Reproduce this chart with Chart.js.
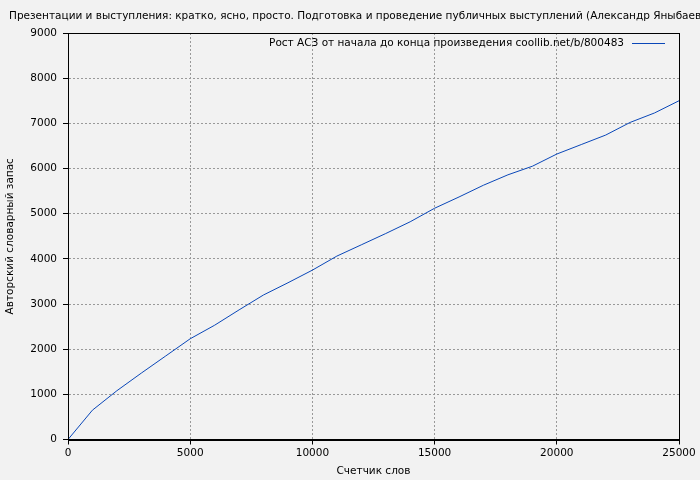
<!DOCTYPE html>
<html>
<head>
<meta charset="utf-8">
<script src="https://cdn.jsdelivr.net/npm/chart.js@4/dist/chart.umd.min.js"></script>
<style>
  html, body { margin: 0; padding: 0; background: #f2f2f2; }
  #wrap { width: 700px; height: 480px; }
</style>
</head>
<body>
<div id="wrap"><canvas id="myChart" width="700" height="480"></canvas></div>
<script>
var chartTitle = 'Презентации и выступления: кратко, ясно, просто. Подготовка и проведение публичных выступлений (Александр Яныбаев)';
var seriesLabel = 'Рост АСЗ от начала до конца произведения coollib.net/b/800483';
var xTitle = 'Счетчик слов';
var yTitle = 'Авторский словарный запас';

var words = [0, 1000, 2000, 3000, 4000, 5000, 6000, 7000, 8000, 9000, 10000, 11000, 12000,
  13000, 14000, 15000, 16000, 17000, 18000, 19000, 20000, 21000, 22000, 23000, 24000, 25000];
var vocab = [0, 650, 1080, 1470, 1850, 2230, 2530, 2870, 3200, 3470, 3750, 4060, 4310,
  4560, 4820, 5120, 5370, 5630, 5860, 6050, 6320, 6530, 6740, 7020, 7230, 7500];

var FONT = '"DejaVu Sans", sans-serif';
var FS = 10.5;

// title, frame and legend drawn by hand
var extras = {
  id: 'extras',
  beforeDraw: function(chart) {
    var c = chart.ctx;
    c.save();
    c.fillStyle = '#f2f2f2';
    c.fillRect(0, 0, chart.width, chart.height);
    c.restore();
  },
  afterDraw: function(chart) {
    var c = chart.ctx, a = chart.chartArea;
    c.save();
    c.strokeStyle = '#000';
    c.lineWidth = 1;
    c.strokeRect(Math.round(a.left) + 0.5, Math.round(a.top) + 0.5,
      Math.round(a.right - a.left), Math.round(a.bottom - a.top));
    c.font = FS + 'px ' + FONT;
    c.fillStyle = '#000';
    c.textBaseline = 'middle';
    c.textAlign = 'left';
    c.fillText(chartTitle, 9, 16);
    c.textAlign = 'right';
    c.fillText(seriesLabel, a.right - 55, a.top + 10);
    c.strokeStyle = '#0a47b8';
    c.beginPath();
    c.moveTo(a.right - 47, a.top + 10.5);
    c.lineTo(a.right - 14, a.top + 10.5);
    c.stroke();
    c.restore();
  }
};

var plain = function(v) { return String(v); };

var ctx = document.getElementById('myChart').getContext('2d');
var myChart = new Chart(ctx, {
  type: 'line',
  data: {
    datasets: [{
      label: seriesLabel,
      data: words.map(function(w, i) { return {x: w, y: vocab[i]}; }),
      borderColor: '#0a47b8',
      borderWidth: 1,
      pointRadius: 0,
      tension: 0,
      fill: false
    }]
  },
  options: {
    responsive: false,
    animation: false,
    layout: { padding: { left: 4, right: 21, top: 33, bottom: 0 } },
    plugins: { legend: { display: false }, title: { display: false }, tooltip: { enabled: false } },
    scales: {
      x: {
        type: 'linear', min: 0, max: 25000,
        ticks: { stepSize: 5000, color: '#000', font: { family: FONT, size: FS }, padding: 2, maxRotation: 0, callback: plain },
        grid: { color: '#999', tickColor: '#000', tickLength: 5 },
        border: { color: '#000', dash: [2, 2] },
        title: { display: true, text: xTitle, color: '#000', font: { family: FONT, size: FS }, padding: { top: 2, bottom: 2 } },
        afterFit: function(s) { s.height = 40.5; }
      },
      y: {
        min: 0, max: 9000,
        ticks: { stepSize: 1000, color: '#000', font: { family: FONT, size: FS }, padding: 6, callback: plain },
        grid: { color: '#999', tickColor: '#000', tickLength: 5 },
        border: { color: '#000', dash: [2, 2] },
        title: { display: true, text: yTitle, color: '#000', font: { family: FONT, size: FS }, padding: { top: 0, bottom: 4 } },
        afterFit: function(s) { s.width = 64; }
      }
    }
  },
  plugins: [extras]
});
</script>
</body>
</html>
